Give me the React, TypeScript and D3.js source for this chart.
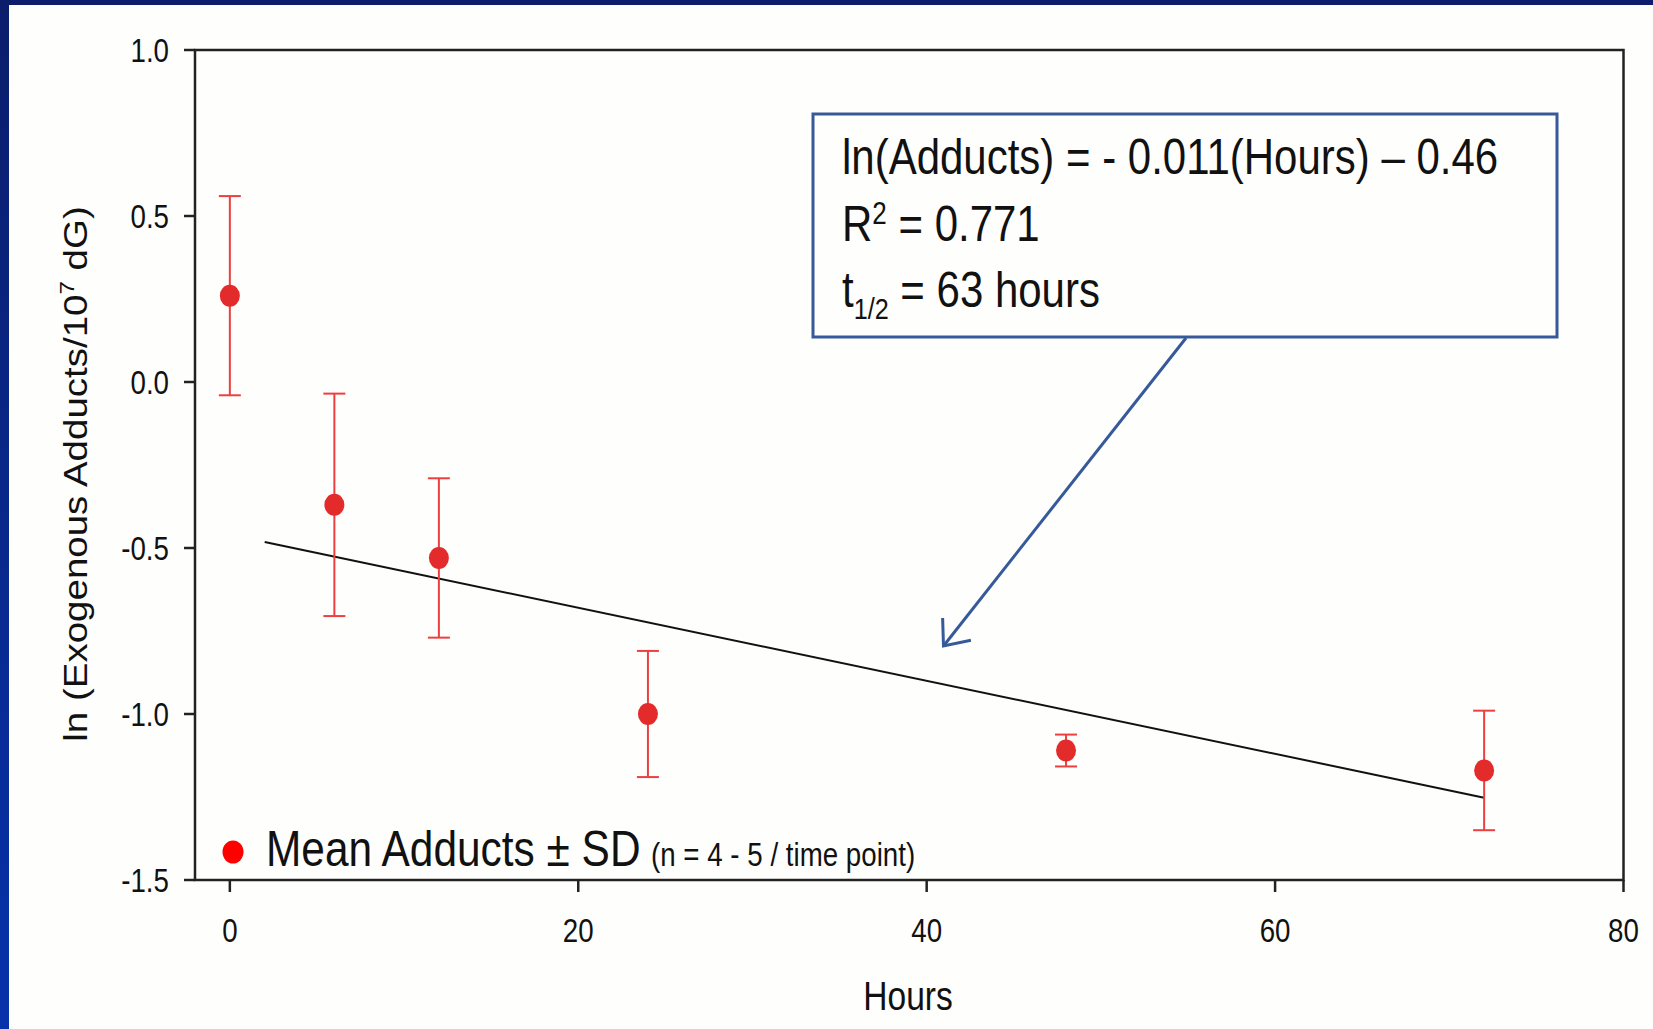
import React from "react";
import * as d3 from "d3";

// ---------- data ----------
const hours = [0, 6, 12, 24, 48, 72];
const meanLnAdducts = [0.26, -0.37, -0.53, -1.0, -1.11, -1.17];
const sdLnAdducts = [0.3, 0.335, 0.24, 0.19, 0.048, 0.18];
const xTicks = [0, 20, 40, 60, 80];
const yTicks = [1.0, 0.5, 0.0, -0.5, -1.0, -1.5];
const yTickLabels = ["1.0", "0.5", "0.0", "-0.5", "-1.0", "-1.5"];
const fitSlope = -0.011;
const fitIntercept = -0.46;
const fitHours = [2, 72];

// ---------- layout ----------
const W = 1653;
const H = 1029;
const SX = 0.84; // horizontal squeeze of the original slide text
const FONT = "'Liberation Sans', Arial, Helvetica, sans-serif";
const left = 195;
const right = 1623.5;
const top = 50;
const bottom = 880;

const x = d3.scaleLinear().domain([-2, 80]).range([left, right]);
const y = d3.scaleLinear().domain([-1.5, 1.0]).range([bottom, top]);

type TP = {
  x: number;
  y: number;
  size: number;
  anchor?: "start" | "middle" | "end";
  rotate?: boolean;
  fill?: string;
  dy?: string;
  children: React.ReactNode;
};

function SText({ x, y, size, anchor = "start", rotate = false, fill = "#111", dy, children }: TP) {
  const tr = rotate
    ? `translate(${x},${y}) rotate(-90) scale(1,${SX})`
    : `translate(${x},${y}) scale(${SX},1)`;
  return (
    <text transform={tr} fontSize={size} textAnchor={anchor} fontFamily={FONT} fill={fill} dy={dy}>
      {children}
    </text>
  );
}

export default function App() {
  const red = "#e32b2b";
  const barRed = "#ec4040";
  const blue = "#36599b";
  const capHalf = 11;

  // arrow geometry (annotation)
  const aStart = [1186, 338];
  const aEnd = [943.5, 646];
  const ang = Math.atan2(aStart[1] - aEnd[1], aStart[0] - aEnd[0]);
  const armLen = 28;
  const spread = (40 * Math.PI) / 180;
  const arm1 = [aEnd[0] + armLen * Math.cos(ang - spread), aEnd[1] + armLen * Math.sin(ang - spread)];
  const arm2 = [aEnd[0] + armLen * Math.cos(ang + spread), aEnd[1] + armLen * Math.sin(ang + spread)];

  const fitLine = d3
    .line<number>()
    .x((h) => x(h))
    .y((h) => y(fitSlope * h + fitIntercept));

  return (
    <svg
      width={W}
      height={H}
      viewBox={`0 0 ${W} ${H}`}
      style={{ position: "absolute", left: 0, top: 0, display: "block" }}
    >
      <defs>
        <linearGradient id="leftBand" x1="0" y1="0" x2="0" y2="1">
          <stop offset="0" stopColor="#0b1d6b" />
          <stop offset="1" stopColor="#0632ab" />
        </linearGradient>
      </defs>
      <rect x={0} y={0} width={W} height={H} fill="#fefefc" />
      <rect x={0} y={0} width={W} height={5} fill="#0b1d6b" />
      <rect x={0} y={0} width={9} height={H} fill="url(#leftBand)" />

      {/* plot frame */}
      <rect x={left} y={top} width={right - left} height={bottom - top} fill="none" stroke="#222" strokeWidth={2.5} />

      {/* y ticks */}
      {yTicks.map((t, i) => (
        <g key={"yt" + i}>
          <line x1={left - 11} x2={left} y1={y(t)} y2={y(t)} stroke="#222" strokeWidth={2.5} />
          <SText x={169} y={y(t)} size={33} anchor="end" dy="0.36em">
            {yTickLabels[i]}
          </SText>
        </g>
      ))}

      {/* x ticks */}
      {xTicks.map((t, i) => (
        <g key={"xt" + i}>
          <line x1={x(t)} x2={x(t)} y1={bottom} y2={bottom + 12} stroke="#222" strokeWidth={2.5} />
          <SText x={x(t)} y={942} size={33} anchor="middle">
            {String(t)}
          </SText>
        </g>
      ))}

      {/* axis titles */}
      <SText x={908} y={1010} size={40} anchor="middle">
        Hours
      </SText>
      <SText x={87} y={474} size={38.5} anchor="middle" rotate>
        ln (Exogenous Adducts/10
        <tspan fontSize={24} dy={-16}>
          7
        </tspan>
        <tspan dy={16}> dG)</tspan>
      </SText>

      {/* regression line */}
      <path d={fitLine(fitHours) || ""} fill="none" stroke="#111" strokeWidth={2} />

      {/* error bars + points */}
      {hours.map((h, i) => {
        const cx = x(h);
        const hi = y(meanLnAdducts[i] + sdLnAdducts[i]);
        const lo = y(meanLnAdducts[i] - sdLnAdducts[i]);
        return (
          <g key={"p" + i}>
            <line x1={cx} x2={cx} y1={hi} y2={lo} stroke={barRed} strokeWidth={2} />
            <line x1={cx - capHalf} x2={cx + capHalf} y1={hi} y2={hi} stroke={barRed} strokeWidth={2} />
            <line x1={cx - capHalf} x2={cx + capHalf} y1={lo} y2={lo} stroke={barRed} strokeWidth={2} />
            <ellipse cx={cx} cy={y(meanLnAdducts[i])} rx={10} ry={11} fill={red} />
          </g>
        );
      })}

      {/* annotation box */}
      <rect x={813} y={114} width={744} height={223} fill="#fefefc" stroke={blue} strokeWidth={3} />
      <SText x={842} y={174} size={50}>
        ln(Adducts) = - 0.011(Hours) – 0.46
      </SText>
      <SText x={842} y={241} size={50}>
        R
        <tspan fontSize={31} dy={-17}>
          2
        </tspan>
        <tspan dy={17}> = 0.771</tspan>
      </SText>
      <SText x={842} y={307} size={50}>
        t
        <tspan fontSize={30} dy={12}>
          1/2
        </tspan>
        <tspan dy={-12}> = 63 hours</tspan>
      </SText>

      {/* arrow */}
      <line x1={aStart[0]} y1={aStart[1]} x2={aEnd[0]} y2={aEnd[1]} stroke={blue} strokeWidth={3} />
      <polyline
        points={`${arm1[0]},${arm1[1]} ${aEnd[0]},${aEnd[1]} ${arm2[0]},${arm2[1]}`}
        fill="none"
        stroke={blue}
        strokeWidth={3}
        strokeLinejoin="miter"
      />

      {/* legend */}
      <ellipse cx={233} cy={852} rx={10.5} ry={11.5} fill="#ff0000" />
      <SText x={266} y={866} size={50.5}>
        Mean Adducts ± SD
      </SText>
      <SText x={651} y={866} size={33}>
        (n = 4 - 5 / time point)
      </SText>
    </svg>
  );
}
